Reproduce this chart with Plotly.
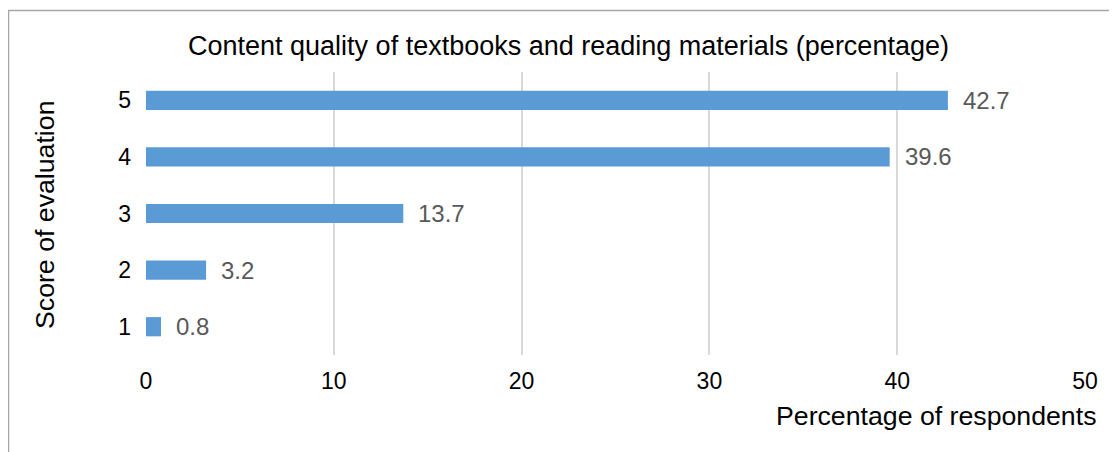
import plotly.graph_objects as go

scores = ["1", "2", "3", "4", "5"]
percentages = [0.8, 3.2, 13.7, 39.6, 42.7]
x_ticks = [0, 10, 20, 30, 40, 50]

FONT = "Liberation Sans, Arial, sans-serif"
OFF = 8  # default page body margin
W, H = 1117 - OFF, 452 - OFF
ml, mr, mt, mb = 146 - OFF, 32, 72 - OFF, 97
pw, ph = W - ml - mr, H - mt - mb

fig = go.Figure(go.Bar(
    x=percentages, y=scores, orientation="h",
    marker=dict(color="#5B9BD5", line=dict(width=0)),
    hoverinfo="skip",
))

for i, v in enumerate(percentages):
    fig.add_annotation(x=v, y=i, xref="x", yref="y", text=f"{v:.1f}",
                       showarrow=False, xanchor="left", yanchor="middle", xshift=13,
                       font=dict(family=FONT, size=24, color="#595959"))

def px(xpage):
    return (xpage - OFF - ml) / pw

def py(ypage):
    return 1 - (ypage - OFF - mt) / ph

fig.add_annotation(x=px(45), y=py(215), xref="paper", yref="paper",
                   text="Score of evaluation", textangle=-90, showarrow=False,
                   xanchor="center", yanchor="middle",
                   font=dict(family=FONT, size=26.7, color="#000000"))
fig.add_annotation(x=px(1098), y=py(416), xref="paper", yref="paper",
                   text="Percentage of respondents", showarrow=False,
                   xanchor="right", yanchor="middle",
                   font=dict(family=FONT, size=26.7, color="#000000"))
fig.add_annotation(x=px(568), y=py(46), xref="paper", yref="paper",
                   text="Content quality of textbooks and reading materials (percentage)",
                   showarrow=False, xanchor="center", yanchor="middle",
                   font=dict(family=FONT, size=27, color="#000000"))

fig.add_shape(type="rect", xref="paper", yref="paper",
              x0=px(8.5), x1=px(1140), y0=py(480), y1=py(10.5),
              line=dict(color="#A6A6A6", width=1.5), fillcolor="rgba(0,0,0,0)", layer="below")

fig.update_layout(
    width=W, height=H,
    margin=dict(l=ml, r=mr, t=mt, b=mb),
    paper_bgcolor="white", plot_bgcolor="white",
    bargap=0.66,
    showlegend=False,
    xaxis=dict(range=[0, 50], tickvals=x_ticks, showgrid=True, gridcolor="#D9D9D9",
               gridwidth=1.5, zeroline=False, showline=False, ticks="",
               tickfont=dict(family=FONT, size=23, color="#000000"),
               ticklabelstandoff=10, fixedrange=True),
    yaxis=dict(type="category", categoryorder="array", categoryarray=scores,
               range=[-0.5, 4.5], showgrid=False,
               zeroline=False, showline=False, ticks="",
               tickfont=dict(family=FONT, size=23, color="#000000"),
               ticklabelstandoff=14, fixedrange=True),
)

fig.write_html("out.html")
